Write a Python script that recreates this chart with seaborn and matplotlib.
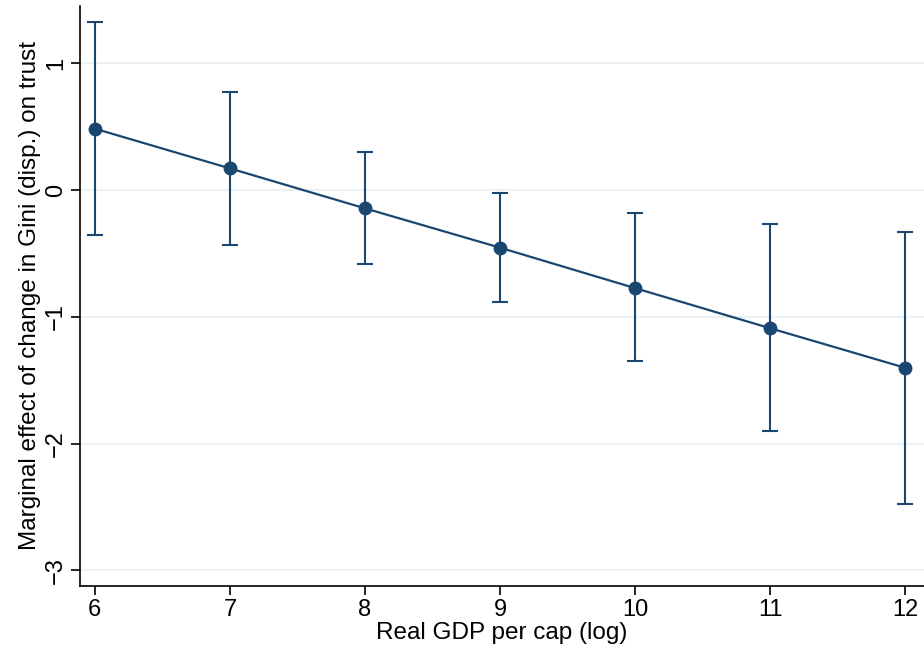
import matplotlib
matplotlib.use("Agg")
import matplotlib.pyplot as plt
import seaborn as sns
import pandas as pd
import numpy as np

gdp = [6, 7, 8, 9, 10, 11, 12]
effect = [0.483, 0.170, -0.145, -0.455, -0.774, -1.090, -1.402]
ci_low = [-0.358, -0.435, -0.582, -0.884, -1.350, -1.900, -2.477]
ci_high = [1.324, 0.774, 0.296, -0.024, -0.182, -0.269, -0.330]
x_ticks = [6, 7, 8, 9, 10, 11, 12]
y_ticks = [-3, -2, -1, 0, 1]

sns.set_theme(style="white")
plt.rcParams['font.family'] = ['Liberation Sans', 'DejaVu Sans']
plt.rcParams['text.color'] = 'black'
plt.rcParams['axes.labelcolor'] = 'black'
plt.rcParams['xtick.color'] = 'black'
plt.rcParams['ytick.color'] = 'black'

color = "#1a476f"
df = pd.DataFrame({"gdp": gdp, "effect": effect, "lo": ci_low, "hi": ci_high})

fig = plt.figure(figsize=(9.24, 6.55), dpi=100)
ax = fig.add_axes([0.0866, 0.1058, 0.9134, 0.885])

for t in y_ticks:
    ax.axhline(t, color="#eaf2f3", lw=1.5, zorder=0)

yerr = np.array([df["effect"] - df["lo"], df["hi"] - df["effect"]])
ax.errorbar(df["gdp"], df["effect"], yerr=yerr, fmt="none", ecolor=color,
            elinewidth=1.5, capsize=6, capthick=1.5, zorder=2)
sns.lineplot(data=df, x="gdp", y="effect", color=color, lw=1.6, marker="o",
             markersize=10, markeredgewidth=0, ax=ax, zorder=3)

ax.set_xlim(5.89, 12.14)
ax.set_ylim(-3.12, 1.45)
ax.set_xticks(x_ticks)
ax.set_yticks(y_ticks)
ax.set_xticklabels([str(v) for v in x_ticks], fontsize=17)
ax.set_yticklabels([str(v).replace("-", "\u2212") for v in y_ticks], fontsize=17,
                   rotation=90, va="center")
ax.tick_params(axis="both", direction="out", length=6.5, width=1.2, color="black",
               labelcolor="black", bottom=True, left=True, pad=3)
ax.set_xlabel("Real GDP per cap (log)", fontsize=17.5, labelpad=1, color="black")
ax.set_ylabel("Marginal effect of change in Gini (disp.) on trust", fontsize=17.5,
              labelpad=3, color="black")

for s in ["top", "right"]:
    ax.spines[s].set_visible(False)
for s in ["left", "bottom"]:
    ax.spines[s].set_color("black")
    ax.spines[s].set_linewidth(1.2)

fig.savefig("out.png", dpi=100, facecolor="white")
